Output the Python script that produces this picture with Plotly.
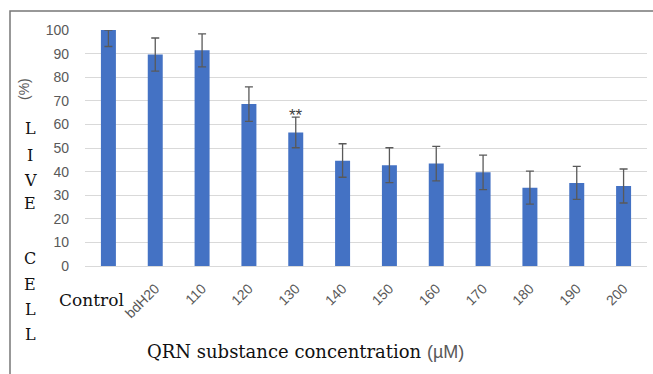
import plotly.graph_objects as go

categories = ["Control", "bdH20", "110", "120", "130", "140", "150", "160", "170", "180", "190", "200"]
live_cell = [100, 89.6, 91.4, 68.6, 56.6, 44.6, 42.7, 43.4, 39.7, 33.2, 35.2, 33.9]
err_plus = [0, 7, 7, 7.3, 6.5, 7.2, 7.4, 7.3, 7.3, 7, 7, 7.2]
err_minus = [7, 7, 7, 7.3, 6.5, 7, 7.4, 7.3, 7.3, 7, 7, 7.2]
tick_labels = [""] + categories[1:]
y_ticks = list(range(0, 101, 10))

W, H = 653, 374
L, R, T, B = 85, 6, 30, 108
pw, ph = W - L - R, H - T - B

def px(x):
    return (x - L) / pw

def py(y):
    return (H - B - y) / ph

fig = go.Figure()
fig.add_trace(go.Bar(
    x=list(range(len(categories))), y=live_cell, width=0.32,
    marker=dict(color="#4472C4", line=dict(width=0)),
    error_y=dict(type="data", symmetric=False, array=err_plus, arrayminus=err_minus,
                 color="#595959", thickness=1.3, width=4),
))

serif = "DejaVu Serif, serif"
annotations = []
# ** marker above 130
annotations.append(dict(x=4, y=live_cell[4] + err_plus[4], xref="x", yref="y",
                        text="**", showarrow=False, yanchor="middle", xanchor="center", yshift=2,
                        font=dict(family="Liberation Sans", size=17, color="#404040")))
# Control label
annotations.append(dict(x=px(91), y=py(300), xref="paper", yref="paper", text="Control",
                        xanchor="center", yanchor="middle",
                        showarrow=False, font=dict(family=serif, size=17, color="#111111")))
# (%) rotated
annotations.append(dict(x=px(24), y=py(89), xref="paper", yref="paper", text="(%)",
                        xanchor="center", yanchor="middle",
                        showarrow=False, textangle=-90,
                        font=dict(family="Liberation Sans", size=14, color="#595959")))
# vertical LIVE CELL letters
letters = [("L", 128), ("I", 155), ("V", 180), ("E", 203), ("C", 258), ("E", 284), ("L", 309), ("L", 334)]
for ch, yy in letters:
    annotations.append(dict(x=px(30), y=py(yy), xref="paper", yref="paper", text=ch,
                            xanchor="center", yanchor="middle",
                            showarrow=False, font=dict(family=serif, size=16, color="#111111")))
# x title
annotations.append(dict(x=px(305), y=py(351), xref="paper", yref="paper",
                        xanchor="center", yanchor="middle",
                        text="QRN substance concentration <span style='font-family:Liberation Sans;color:#595959'>(µM)</span>",
                        showarrow=False, font=dict(family=serif, size=18, color="#111111")))

fig.update_layout(
    width=W, height=H,
    margin=dict(l=L, r=R, t=T, b=B, pad=0, autoexpand=False),
    paper_bgcolor="white", plot_bgcolor="white",
    showlegend=False,
    annotations=annotations,
    shapes=[dict(type="rect", xref="paper", yref="paper",
                 x0=px(10), x1=px(680), y0=py(400), y1=py(11),
                 line=dict(color="#777777", width=1.5), layer="below")],
    xaxis=dict(tickmode="array", tickvals=list(range(len(categories))), ticktext=tick_labels,
               tickangle=-45, tickfont=dict(family="Liberation Sans", size=14, color="#595959"),
               ticklabelstandoff=8,
               showgrid=False, showline=True, linecolor="#d9d9d9", linewidth=1, ticks="",
               zeroline=False, automargin=False,
               range=[-0.5, len(categories) - 0.5]),
    yaxis=dict(range=[0, 100], tickvals=y_ticks, showgrid=True, gridcolor="#d9d9d9", gridwidth=1,
               zeroline=False, showline=False, ticks="", automargin=False,
               ticklabelstandoff=15,
               tickfont=dict(family="Liberation Sans", size=14, color="#595959")),
)
fig.write_html("out.html", config={"displayModeBar": False},
               post_script="document.body.style.margin='0';")
